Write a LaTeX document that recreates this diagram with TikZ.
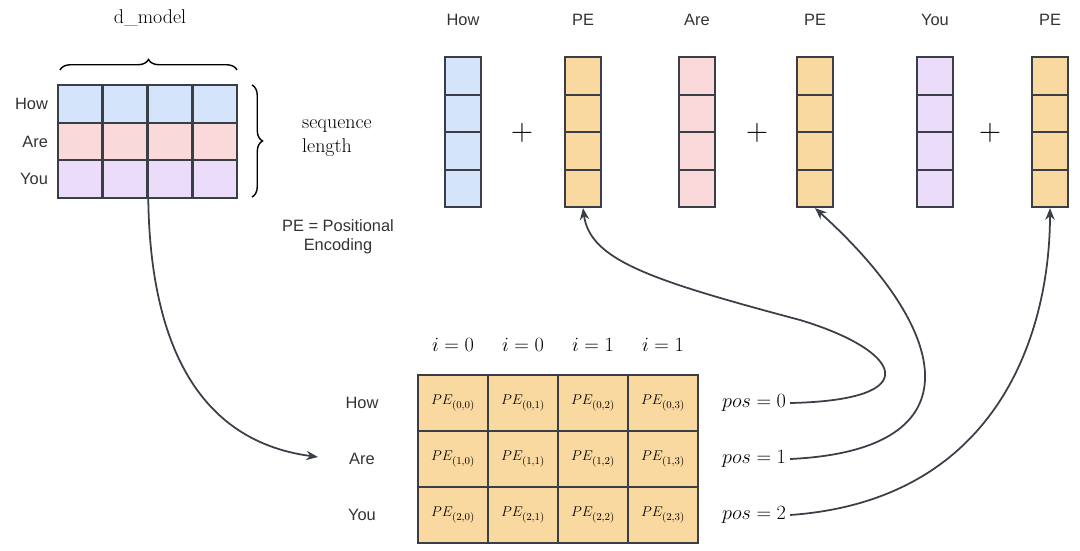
\documentclass[tikz,border=0pt]{standalone}
\usepackage{amsmath}
\usepackage{fontspec}
\newfontfamily\sansf{Liberation Sans}
\usetikzlibrary{positioning,calc,arrows.meta,decorations.pathreplacing}
\definecolor{cblue}{HTML}{D3E4FB}
\definecolor{cpink}{HTML}{F9D9DA}
\definecolor{cpurple}{HTML}{EBDCFA}
\definecolor{corange}{HTML}{FAD9A0}
\definecolor{cline}{HTML}{3A3F47}
\begin{document}
\begin{tikzpicture}[x=0.03cm,y=-0.03cm]
    \tikzset{cell/.style={rectangle,draw=cline,line width=1.6pt,
                          minimum width=1.34cm,minimum height=1.12cm,inner sep=0pt},
             vcell/.style={rectangle,draw=cline,line width=1.6pt,
                           minimum width=1.08cm,minimum height=1.12cm,inner sep=0pt},
             pcell/.style={rectangle,draw=cline,line width=1.2pt,fill=corange,
                           minimum width=2.1cm,minimum height=1.68cm,inner sep=0pt,
                           font=\fontsize{13}{15}\selectfont},
             lbl/.style={font=\sansf\fontsize{14}{16}\selectfont,text=black!80},
             big/.style={font=\fontsize{17}{20}\selectfont},
             link/.style={-{Stealth[length=10pt,width=8pt]},draw=cline,line width=1.5pt}}
    \useasboundingbox (0,0) rectangle (1080,550);

    % input embeddings
    \node[big] (dm) at (150,18) {d\_model};
    \foreach \r/\c/\w in {0/cblue/How,1/cpink/Are,2/cpurple/You}{
        \foreach \k in {0,...,3}
            \node[cell,fill=\c] (m\r\k) at (80+45*\k,104+37.5*\r) {};
        \node[lbl,left=4pt of m\r0] (w\r) {\w};
    }
    \draw[decorate,decoration={brace,amplitude=9pt},line width=1.2pt]
        (60,70) -- (237,70);
    \draw[decorate,decoration={brace,amplitude=9pt},line width=1.2pt]
        (252,85) -- (252,197);
    \node[big,align=left] (seq) at (337,138) {sequence\\length};
    \node[lbl,align=center] (pe) at (338,237) {PE = Positional\\Encoding};

    % vectors
    \foreach \n/\x/\c/\w in {a/463/cblue/How,b/583/corange/PE,c/697/cpink/Are,
                             d/815/corange/PE,e/935/cpurple/You,f/1050/corange/PE}{
        \foreach \k in {0,...,3}
            \node[vcell,fill=\c] (\n\k) at (\x,76+37.5*\k) {};
        \node[lbl] (t\n) at (\x,20) {\w};
    }
    \foreach \x in {522,757,990}
        \node[font=\fontsize{26}{28}\selectfont] at (\x,133) {+};

    % positional encoding matrix
    \foreach \r/\w in {0/How,1/Are,2/You}{
        \foreach \k in {0,...,3}
            \node[pcell] (p\r\k) at (453+70*\k,403+56*\r) {$PE_{(\r,\k)}$};
        \node[lbl] (q\r) at (362,403+56*\r) {\w};
        \node[big,anchor=west] (pos\r) at (718,403+56*\r) {$pos=\r$};
    }
    \foreach \k/\i in {0/0,1/0,2/1,3/1}
        \node[big] (i\k) at (453+70*\k,345) {$i=\i$};

    % connectors
    \draw[link] (m21.south east) .. controls (150,330) and (190,440) .. (318,457);
    \draw[link] (pos0.east) .. controls (930,400) and (900,350) .. (800,320)
        .. controls (650,280) and (590,260) .. (b3.south);
    \draw[link] (pos1.east) .. controls (980,450) and (950,330) .. (d3.south);
    \draw[link] (pos2.east) .. controls (1000,500) and (1050,330) .. (f3.south);
\end{tikzpicture}
\end{document}
